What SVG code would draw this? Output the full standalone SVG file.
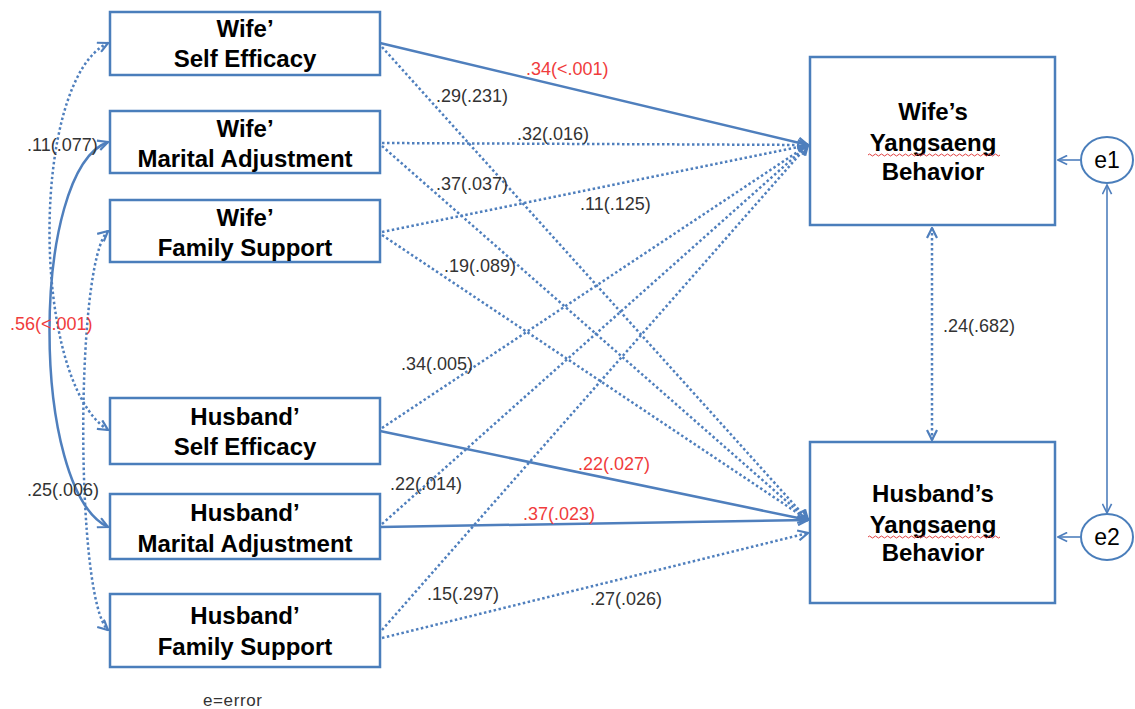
<svg xmlns="http://www.w3.org/2000/svg" width="1135" height="709" viewBox="0 0 1135 709">
<style>
.box{fill:#fff;stroke:#4A7EBB;stroke-width:2.5}
.t{font-family:"Liberation Sans",Arial,sans-serif;font-weight:bold;font-size:24px;fill:#000;text-anchor:middle}
.l{font-family:"Liberation Sans",Arial,sans-serif;font-size:18px;fill:#333}
.r{fill:#F03C3C}
.s{fill:none;stroke:#4F7FBD;stroke-width:2.5;marker-end:url(#a)}
.d{fill:none;stroke:#4F7FBD;stroke-width:2.5;stroke-dasharray:2.5 2.5;marker-end:url(#a)}
.th{fill:none;stroke:#4F7FBD;stroke-width:1.6}
.wv{fill:none;stroke:#E04040;stroke-width:1}
</style>
<defs>
<marker id="a" viewBox="0 0 12 12" refX="11" refY="6" markerWidth="12" markerHeight="12" markerUnits="userSpaceOnUse" orient="auto-start-reverse">
<path d="M1,1 L11,6 L1,11" fill="none" stroke="#4F7FBD" stroke-width="2.2"/>
</marker>
<marker id="b" viewBox="0 0 12 12" refX="11" refY="6" markerWidth="11" markerHeight="11" markerUnits="userSpaceOnUse" orient="auto-start-reverse">
<path d="M1,1 L11,6 L1,11" fill="none" stroke="#4F7FBD" stroke-width="1.8"/>
</marker>
</defs>
<g id="connectors">
<path class="d" d="M108,43 C30,80 30,380 108,430" marker-start="url(#a)"/>
<path class="s" d="M108,142 C30,170 30,490 108,527" marker-start="url(#a)"/>
<path class="d" d="M108,231 C75,260 75,600 108,630" marker-start="url(#a)"/>
<path class="s" d="M380,43 L808,145"/>
<path class="d" d="M382,143 L808,145"/>
<path class="d" d="M382,232 L808,145"/>
<path class="d" d="M382,428 L808,145"/>
<path class="d" d="M382,524 L808,145"/>
<path class="d" d="M382,630 L808,145"/>
<path class="d" d="M382,47 L808,520"/>
<path class="d" d="M382,146 L808,520"/>
<path class="d" d="M382,235 L808,520"/>
<path class="s" d="M380,431 L808,520"/>
<path class="s" d="M380,527 L808,520"/>
<path class="d" d="M382,638 L808,533"/>
<path class="d" d="M932,228 L932,440" marker-start="url(#a)"/>
<path class="th" d="M1080,160 L1058,160" marker-end="url(#b)"/>
<path class="th" d="M1080,537 L1058,537" marker-end="url(#b)"/>
<path class="th" d="M1107,185 L1107,513" marker-start="url(#b)" marker-end="url(#b)"/>
</g>
<g id="n1"><rect class="box" x="110" y="12" width="270" height="63"/><text class="t" x="245" y="37">Wife&#8217;</text><text class="t" x="245" y="67">Self Efficacy</text></g>
<g id="n2"><rect class="box" x="110" y="111" width="270" height="62"/><text class="t" x="245" y="137">Wife&#8217;</text><text class="t" x="245" y="167">Marital Adjustment</text></g>
<g id="n3"><rect class="box" x="110" y="200" width="270" height="62"/><text class="t" x="245" y="226">Wife&#8217;</text><text class="t" x="245" y="256">Family Support</text></g>
<g id="n4"><rect class="box" x="110" y="398" width="270" height="66"/><text class="t" x="245" y="425">Husband&#8217;</text><text class="t" x="245" y="455">Self Efficacy</text></g>
<g id="n5"><rect class="box" x="110" y="494" width="270" height="65"/><text class="t" x="245" y="521">Husband&#8217;</text><text class="t" x="245" y="552">Marital Adjustment</text></g>
<g id="n6"><rect class="box" x="110" y="594" width="270" height="73"/><text class="t" x="245" y="624">Husband&#8217;</text><text class="t" x="245" y="655">Family Support</text></g>
<g id="n7"><rect class="box" x="810" y="57" width="245" height="168"/><text class="t" x="933" y="120">Wife&#8217;s</text><text class="t" x="933" y="151">Yangsaeng</text><text class="t" x="933" y="180">Behavior</text>
<path class="wv" d="M868,155 q1.5,-2 3,0 t3,0 t3,0 t3,0 t3,0 t3,0 t3,0 t3,0 t3,0 t3,0 t3,0 t3,0 t3,0 t3,0 t3,0 t3,0 t3,0 t3,0 t3,0 t3,0 t3,0 t3,0 t3,0 t3,0 t3,0 t3,0 t3,0 t3,0 t3,0 t3,0 t3,0 t3,0 t3,0 t3,0 t3,0 t3,0 t3,0 t3,0 t3,0 t3,0 t3,0 t3,0 t3,0 t3,0"/></g>
<g id="n8"><rect class="box" x="810" y="442" width="245" height="161"/><text class="t" x="933" y="502">Husband&#8217;s</text><text class="t" x="933" y="533">Yangsaeng</text><text class="t" x="933" y="561">Behavior</text>
<path class="wv" d="M868,537 q1.5,-2 3,0 t3,0 t3,0 t3,0 t3,0 t3,0 t3,0 t3,0 t3,0 t3,0 t3,0 t3,0 t3,0 t3,0 t3,0 t3,0 t3,0 t3,0 t3,0 t3,0 t3,0 t3,0 t3,0 t3,0 t3,0 t3,0 t3,0 t3,0 t3,0 t3,0 t3,0 t3,0 t3,0 t3,0 t3,0 t3,0 t3,0 t3,0 t3,0 t3,0 t3,0 t3,0 t3,0 t3,0"/></g>
<g id="e1"><ellipse cx="1107" cy="160" rx="26" ry="23" fill="#fff" stroke="#4A7EBB" stroke-width="2"/><text class="l" x="1107" y="168" text-anchor="middle" style="font-size:23px;fill:#000">e1</text></g>
<g id="e2"><ellipse cx="1107" cy="537" rx="26" ry="23" fill="#fff" stroke="#4A7EBB" stroke-width="2"/><text class="l" x="1107" y="545" text-anchor="middle" style="font-size:23px;fill:#000">e2</text></g>
<g id="labels">
<text class="l r" x="526" y="75">.34(&lt;.001)</text>
<text class="l" x="436" y="102">.29(.231)</text>
<text class="l" x="517" y="140">.32(.016)</text>
<text class="l" x="436" y="190">.37(.037)</text>
<text class="l" x="580" y="210">.11(.125)</text>
<text class="l" x="444" y="272">.19(.089)</text>
<text class="l" x="401" y="370">.34(.005)</text>
<text class="l r" x="578" y="470">.22(.027)</text>
<text class="l" x="390" y="490">.22(.014)</text>
<text class="l r" x="523" y="520">.37(.023)</text>
<text class="l" x="427" y="600">.15(.297)</text>
<text class="l" x="590" y="605">.27(.026)</text>
<text class="l" x="27" y="151">.11(.077)</text>
<text class="l r" x="10" y="330">.56(&lt;.001)</text>
<text class="l" x="27" y="496">.25(.006)</text>
<text class="l" x="943" y="332">.24(.682)</text>
<text class="l" x="203" y="706" style="font-size:17px;letter-spacing:0.6px">e=error</text>
</g>
</svg>
